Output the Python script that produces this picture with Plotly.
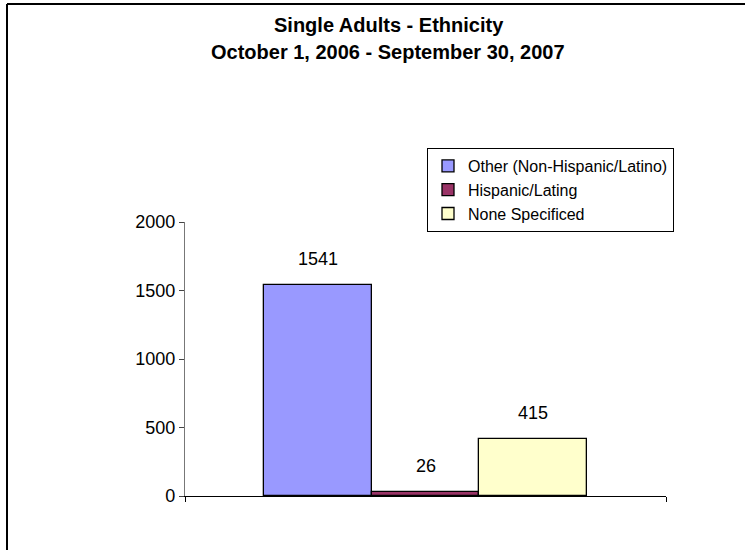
import plotly.graph_objects as go

categories = ["Other (Non-Hispanic/Latino)", "Hispanic/Lating", "None Specificed"]
values = [1541, 26, 415]
colors = ["#9999FF", "#993366", "#FFFFCC"]
title_lines = ["Single Adults - Ethnicity", "October 1, 2006 - September 30, 2007"]
y_ticks = [0, 500, 1000, 1500, 2000]

FONT = "Arial, Liberation Sans, sans-serif"

# plot area in pixels
L, R, T, B = 185, 666, 222, 496
W, H = 745, 550

def px_to_paper_x(px):
    return (px - L) / (R - L)

def px_to_paper_y(py):
    return (B - py) / (B - T)

fig = go.Figure()
for i, (cat, val, col) in enumerate(zip(categories, values, colors)):
    fig.add_trace(go.Bar(
        x=[i], y=[val], name=cat, width=1,
        marker=dict(color=col, line=dict(color="black", width=1.3)),
    ))
    fig.add_annotation(x=i, y=val, text=str(val), showarrow=False,
                       yshift=26, yanchor="middle",
                       font=dict(family=FONT, size=18, color="black"))

xr = [-1.24, 3.24]
fig.update_layout(
    width=W, height=H,
    margin=dict(l=L, r=W - R, t=T, b=H - B, pad=0),
    paper_bgcolor="white", plot_bgcolor="white",
    showlegend=True,
    legend=dict(x=px_to_paper_x(427), y=px_to_paper_y(148), xanchor="left", yanchor="top",
                bordercolor="black", borderwidth=1, bgcolor="white",
                font=dict(family=FONT, size=16, color="black"),
                tracegroupgap=0, itemwidth=30),
    bargap=0,
    xaxis=dict(range=xr, showgrid=False, zeroline=False, showline=True, linecolor="black",
               linewidth=1.3, ticks="outside", tickvals=xr, ticklen=5, tickcolor="black",
               showticklabels=False, fixedrange=True),
    yaxis=dict(range=[0, 2000], tickvals=y_ticks, showgrid=False, zeroline=False,
               showline=True, linecolor="#777777", linewidth=1.3, ticks="outside",
               ticklen=5, tickcolor="#444444",
               tickfont=dict(family=FONT, size=18, color="black"), fixedrange=True),
    font=dict(family=FONT, color="black"),
)

fig.add_annotation(xref="paper", yref="paper", x=px_to_paper_x(389), y=px_to_paper_y(25),
                   text="<b>" + title_lines[0] + "</b>", showarrow=False, yanchor="middle",
                   font=dict(family=FONT, size=20, color="black"))
fig.add_annotation(xref="paper", yref="paper", x=px_to_paper_x(388), y=px_to_paper_y(52),
                   text="<b>" + title_lines[1] + "</b>", showarrow=False, yanchor="middle",
                   font=dict(family=FONT, size=20, color="black"))

# outer chart border (top and left edges visible)
fig.add_shape(type="line", xref="paper", yref="paper",
              x0=px_to_paper_x(7), x1=px_to_paper_x(W),
              y0=px_to_paper_y(4), y1=px_to_paper_y(4), line=dict(color="black", width=2))
fig.add_shape(type="line", xref="paper", yref="paper",
              x0=px_to_paper_x(7), x1=px_to_paper_x(7),
              y0=px_to_paper_y(4), y1=px_to_paper_y(H), line=dict(color="black", width=2))

fig.write_html("out.html",
               config={"displayModeBar": False},
               post_script="document.body.style.margin='0';document.body.style.overflow='hidden';")
